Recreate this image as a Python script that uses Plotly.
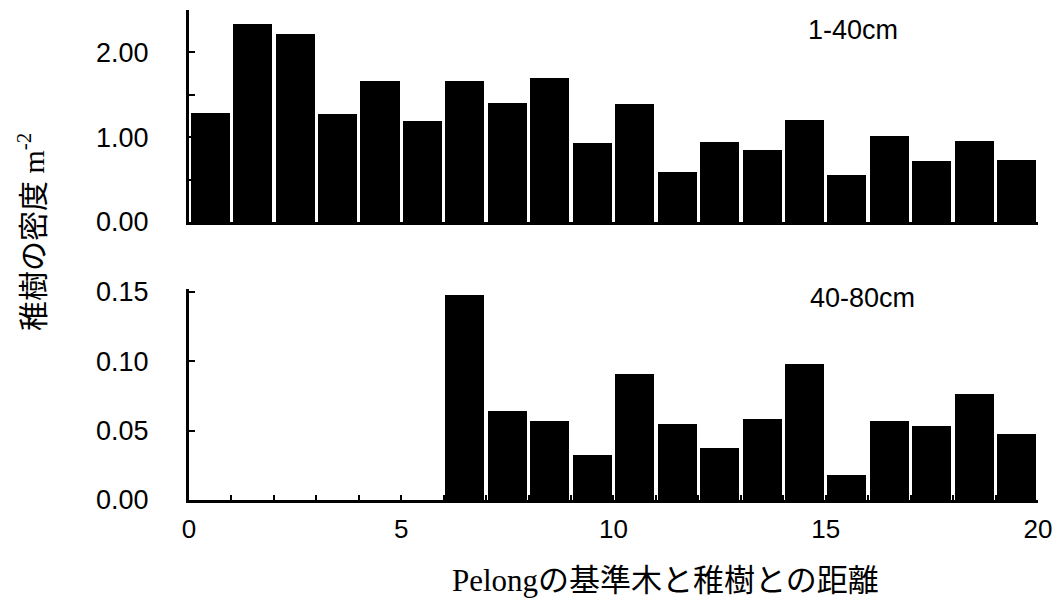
import plotly.graph_objects as go
from plotly.subplots import make_subplots

# distance classes (m) from the Pelong reference tree
bin_left = list(range(0, 20))
# density of seedlings, 1-40 cm height class (per m^2)
dens_1_40 = [1.28, 2.34, 2.22, 1.27, 1.66, 1.19, 1.66, 1.40, 1.70, 0.93,
             1.39, 0.59, 0.94, 0.85, 1.20, 0.56, 1.02, 0.72, 0.95, 0.73]
# density of seedlings, 40-80 cm height class (per m^2)
dens_40_80 = [0, 0, 0, 0, 0, 0, 0.148, 0.064, 0.057, 0.0325,
              0.091, 0.055, 0.0375, 0.058, 0.098, 0.018, 0.057, 0.053, 0.0765, 0.0475]

top_yticks = [0, 0.5, 1.0, 1.5, 2.0, 2.5]
top_ytext = ["0.00", "", "1.00", "", "2.00", ""]
bot_yticks = [0, 0.05, 0.10, 0.15]
bot_ytext = ["0.00", "0.05", "0.10", "0.15"]
xticks = list(range(0, 21))
xtext = [str(v) if v % 5 == 0 else "" for v in xticks]

centers = [b + 0.5 for b in bin_left]

L, R = 189, 1038  # plot area pixel extent
W = R - L

fig = make_subplots(rows=2, cols=1, shared_xaxes=False)
fig.add_trace(go.Bar(x=centers, y=dens_1_40, width=0.92, marker=dict(color="black", line=dict(width=0)),
                     showlegend=False), row=1, col=1)
fig.add_trace(go.Bar(x=centers, y=dens_40_80, width=0.92, marker=dict(color="black", line=dict(width=0)),
                     showlegend=False), row=2, col=1)

tick_font = dict(family="Liberation Sans, Arial, sans-serif", size=27, color="black")

fig.update_layout(
    width=1054, height=607,
    margin=dict(l=L, r=1054 - R, t=10, b=107),
    paper_bgcolor="white", plot_bgcolor="white",
    bargap=0,
    xaxis=dict(domain=[0, 1], range=[0, 20.001], showline=True, linecolor="black", linewidth=3,
               showticklabels=False, ticks="", showgrid=False, zeroline=False, automargin=False),
    yaxis=dict(domain=[(500 - 222) / 490, 1.0], range=[0, 2.5], showline=True, linecolor="black",
               linewidth=3, tickvals=top_yticks, ticktext=top_ytext, ticks="inside", ticklen=6,
               tickwidth=2, tickcolor="black", tickfont=tick_font, ticklabelstandoff=32,
               showgrid=False, zeroline=False, automargin=False),
    xaxis2=dict(domain=[0, 1], range=[0, 20.001], showline=True, linecolor="black", linewidth=3,
                tickvals=xticks, ticktext=xtext, ticks="inside", ticklen=5, tickwidth=2,
                tickcolor="black", tickfont=dict(family="Liberation Sans, Arial, sans-serif", size=26, color="black"),
                ticklabelstandoff=4, ticklabeloverflow="allow", showgrid=False, zeroline=False,
                automargin=False),
    yaxis2=dict(domain=[0, (500 - 289) / 490], range=[0, 0.152], showline=True, linecolor="black",
                linewidth=3, tickvals=bot_yticks, ticktext=bot_ytext, ticks="inside", ticklen=6,
                tickwidth=2, tickcolor="black", tickfont=tick_font, ticklabelstandoff=32,
                showgrid=False, zeroline=False, automargin=False),
)

fig.add_annotation(text="1-40cm", xref="paper", yref="paper", x=(853 - L) / W, y=(500 - 30) / 490,
                   xanchor="center", yanchor="middle", showarrow=False,
                   font=dict(family="Liberation Sans, Arial, sans-serif", size=27, color="black"))
fig.add_annotation(text="40-80cm", xref="paper", yref="paper", x=(862 - L) / W, y=(500 - 298) / 490,
                   xanchor="center", yanchor="middle", showarrow=False,
                   font=dict(family="Liberation Sans, Arial, sans-serif", size=27, color="black"))

fig.add_annotation(text="稚樹の密度 m<sup>-2</sup>", xref="paper", yref="paper",
                   x=(31 - L) / W, y=(500 - 232) / 490, textangle=-90, showarrow=False,
                   xanchor="center", yanchor="middle",
                   font=dict(family="Liberation Serif, Noto Sans CJK JP, serif", size=30, color="black"))
fig.add_annotation(text="Pelongの基準木と稚樹との距離", xref="paper", yref="paper",
                   x=(665 - L) / W, y=(500 - 580) / 490, showarrow=False,
                   xanchor="center", yanchor="middle",
                   font=dict(family="Liberation Serif, Noto Sans CJK JP, serif", size=31, color="black"))

fig.write_html("out.html")
